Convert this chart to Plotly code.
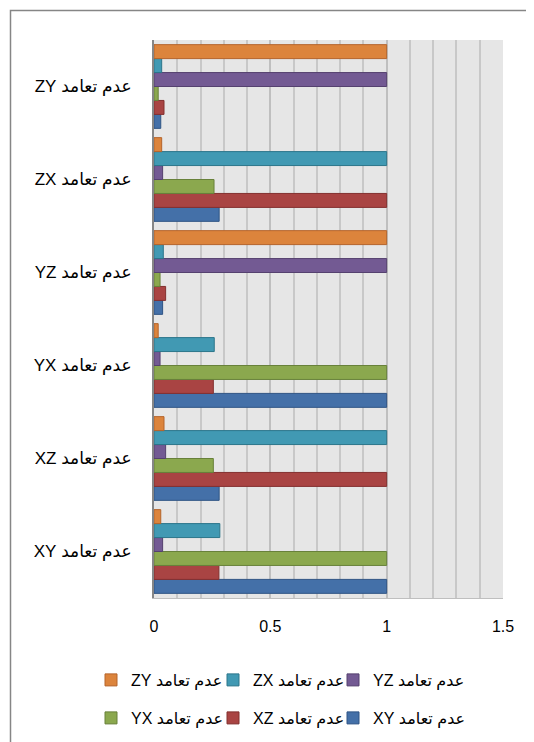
import plotly.graph_objects as go

prefix = "عدم تعامد"
categories = ["XY", "XZ", "YX", "YZ", "ZX", "ZY"]
series_names = ["XY", "XZ", "YX", "YZ", "ZX", "ZY"]

vals_XY = [1.0, 0.280, 1.0, 0.037, 0.280, 0.029]
vals_XZ = [0.279, 1.0, 0.255, 0.050, 1.0, 0.043]
vals_YX = [1.0, 0.255, 1.0, 0.026, 0.258, 0.018]
vals_YZ = [0.037, 0.050, 0.026, 1.0, 0.037, 1.0]
vals_ZX = [0.283, 1.0, 0.259, 0.040, 1.0, 0.033]
vals_ZY = [0.029, 0.043, 0.018, 1.0, 0.033, 1.0]
series_values = [vals_XY, vals_XZ, vals_YX, vals_YZ, vals_ZX, vals_ZY]

fills = ["#4470A8", "#A94443", "#8BA84E", "#735A93", "#4199B3", "#DC843C"]
edges = ["#2F5485", "#83302F", "#68813A", "#55416F", "#2C768A", "#B5642A"]

FONT = "Liberation Sans, DejaVu Sans, sans-serif"


def label(code):
    return "\u2067" + prefix + " " + code + "\u2069"


cat_labels = [label(c) for c in categories]

# page is offset by the 8px default body margin
OFF = 8
W, H = 534, 742
L = 154 - OFF
T = 40 - OFF
R = W - (503 - OFF)
B = H - (598 - OFF)
ph = H - T - B
pw = W - L - R


def py(page_y):
    return 1 - (page_y - OFF - T) / ph


def px(page_x):
    return (page_x - OFF - L) / pw


# legend slots (page pixels of the marker's left edge and row centre)
legend_slots = {
    "XY": (346, 718), "XZ": (226, 718), "YX": (104, 718),
    "YZ": (346, 680), "ZX": (226, 680), "ZY": (104, 680),
}

fig = go.Figure()
legend_layouts = {}
for i, (name, vals, fc, ec) in enumerate(zip(series_names, series_values, fills, edges)):
    lid = "legend" if i == 0 else f"legend{i + 1}"
    fig.add_trace(go.Bar(
        y=cat_labels, x=vals, orientation="h", name=label(name),
        marker=dict(color=fc, line=dict(color=ec, width=1)),
        legend=lid, showlegend=True,
    ))
    mx, my = legend_slots[name]
    legend_layouts[lid] = dict(
        x=px(mx - 13), y=py(my), xref="paper", yref="paper",
        orientation="h", xanchor="left", yanchor="middle",
        font=dict(family=FONT, size=16, color="#000000"),
        bgcolor="rgba(0,0,0,0)", itemwidth=30, visible=True,
    )

fig.update_layout(
    width=W, height=H,
    showlegend=True,
    margin=dict(l=L, r=R, t=T, b=B, pad=0, autoexpand=False),
    paper_bgcolor="#FFFFFF",
    plot_bgcolor="#E6E6E6",
    barmode="group", bargap=0.1, bargroupgap=0,
    font=dict(family=FONT, size=16, color="#000000"),
    xaxis=dict(
        range=[0, 1.5], tickvals=[0, 0.5, 1, 1.5], ticktext=["0", "0.5", "1", "1.5"],
        showgrid=True, gridcolor="#BFBFBF", gridwidth=2,
        minor=dict(dtick=0.1, showgrid=True, gridcolor="#C8C8C8", gridwidth=2),
        showline=True, linecolor="#BFBFBF", linewidth=1,
        zeroline=False, ticks="", ticklabelstandoff=14,
        tickfont=dict(family=FONT, size=16, color="#000000"),
        fixedrange=True, automargin=False,
    ),
    yaxis=dict(
        type="category", categoryorder="array", categoryarray=cat_labels,
        showgrid=False, showline=True, linecolor="#868686", linewidth=2,
        ticks="", ticklabelstandoff=17,
        tickfont=dict(family=FONT, size=17, color="#000000"),
        fixedrange=True, automargin=False,
    ),
    shapes=[dict(
        type="rect", xref="paper", yref="paper",
        x0=px(10.5), x1=1.3, y0=-0.5, y1=py(10.5),
        line=dict(color="#868686", width=1.5), fillcolor="rgba(0,0,0,0)", layer="below",
    )],
    **legend_layouts,
)

fig.write_html("out.html")
